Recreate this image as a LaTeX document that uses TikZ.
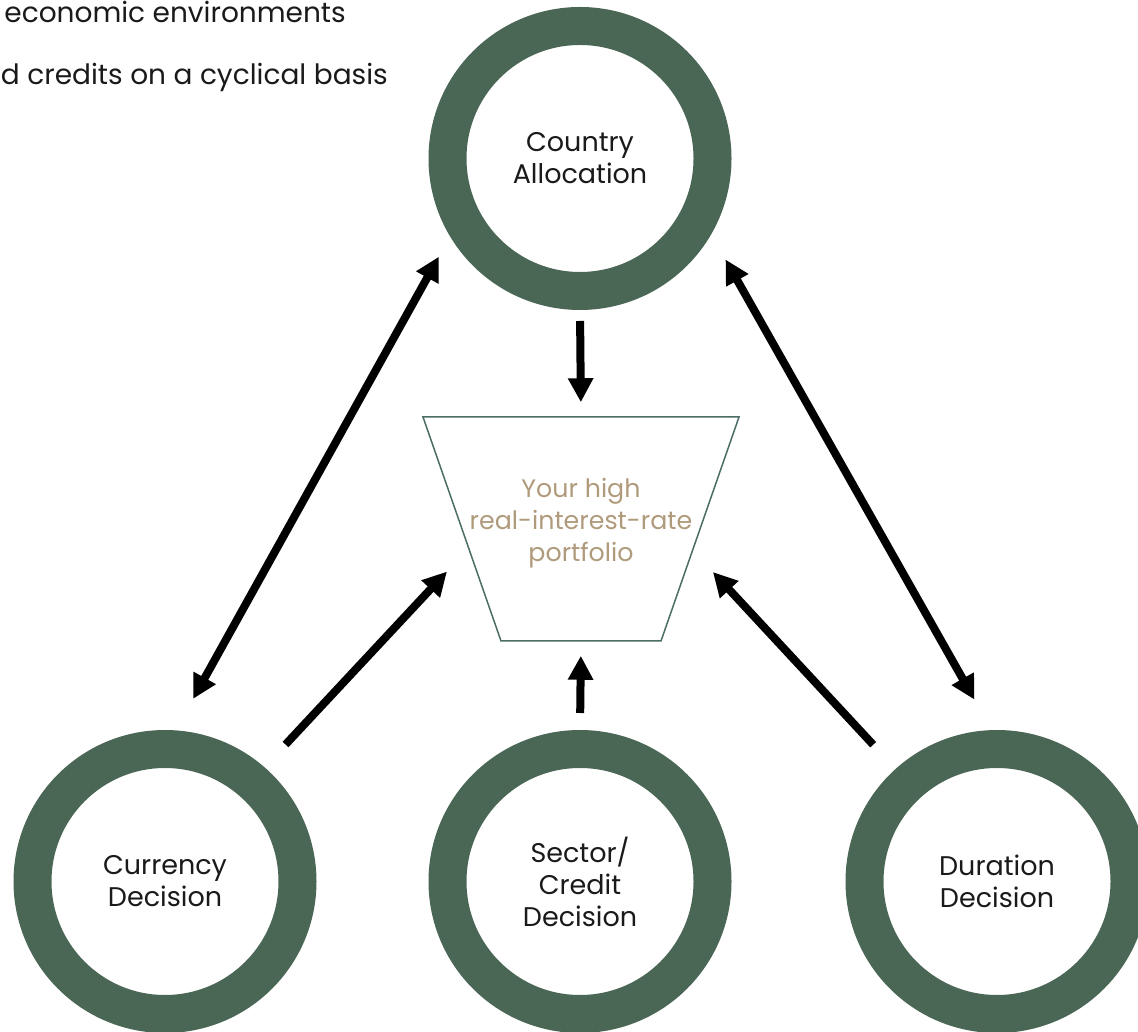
\documentclass[tikz,border=0pt]{standalone}
\usepackage{fontspec}
\setmainfont{Poppins}
\usetikzlibrary{arrows.meta,shapes.geometric}
\definecolor{ringgreen}{HTML}{4A6654}
\definecolor{funnelline}{HTML}{4A6E66}
\definecolor{sand}{HTML}{B09A7C}
\definecolor{ink}{HTML}{1A1A1A}
\begin{document}
\begin{tikzpicture}[x=1pt,y=1pt,
	every node/.style = {align=center, text=ink, font=\fontsize{27}{32}\selectfont},
	ring/.style = {circle, draw=ringgreen, line width=38pt, minimum size=265pt, inner sep=0pt},
	funnel/.style = {trapezium, draw=funnelline, line width=1.5pt, shape border rotate=180,
		trapezium left angle=70.8, trapezium right angle=70.8,
		inner xsep=80pt, inner ysep=112pt},
	funneltext/.style = {text=sand, font=\fontsize{25.3}{32}\selectfont},
	note/.style = {anchor=base east, inner sep=0pt, font=\fontsize{28}{32}\selectfont},
	link/.style = {line width=8pt, -{Triangle[length=24pt,width=24pt]}},
	dlink/.style = {line width=8pt, {Triangle[length=24pt,width=24pt]}-{Triangle[length=24pt,width=24pt]}}]
\useasboundingbox (0,0) rectangle (1138,1031);
\clip (0,0) rectangle (1138,1031);

% text running in from the left
\node[note] (envline) at (346,1008) {economic environments};
\node[note] (cycleline) at (388,946) {d credits on a cyclical basis};

% the four decisions
\node[ring] (country) at (580,872.5) {Country\\Allocation};
\node[ring] (currency) at (165,149.5) {Currency\\Decision};
\node[ring] (sector) at (580,149.5) {Sector/\\Credit\\Decision};
\node[ring] (duration) at (997,149.5) {Duration\\Decision};

% the portfolio in the middle
\node[funnel] (portfolio) at (581,502) {};
\node[funneltext] (portfoliotext) at ([yshift=6pt]portfolio.center) {Your high\\real-interest-rate\\portfolio};

% arrows
\draw[dlink, shorten <=36pt, shorten >=23pt] (currency.86) -- (country.211);
\draw[dlink, shorten <=29pt, shorten >=35pt] (country.330) -- (duration.92);
\draw[link, shorten <=11pt, shorten >=14pt] (country.270) -- (portfolio.90);
\draw[link, shorten <=17pt, shorten >=14pt] (sector.90) -- (portfolio.270);
\draw[link, shorten <=31pt, shorten >=31pt] (currency.49) -- (portfolio.190);
\draw[link, shorten <=33pt, shorten >=29pt] (duration.132) -- (portfolio.349);
\end{tikzpicture}
\end{document}
